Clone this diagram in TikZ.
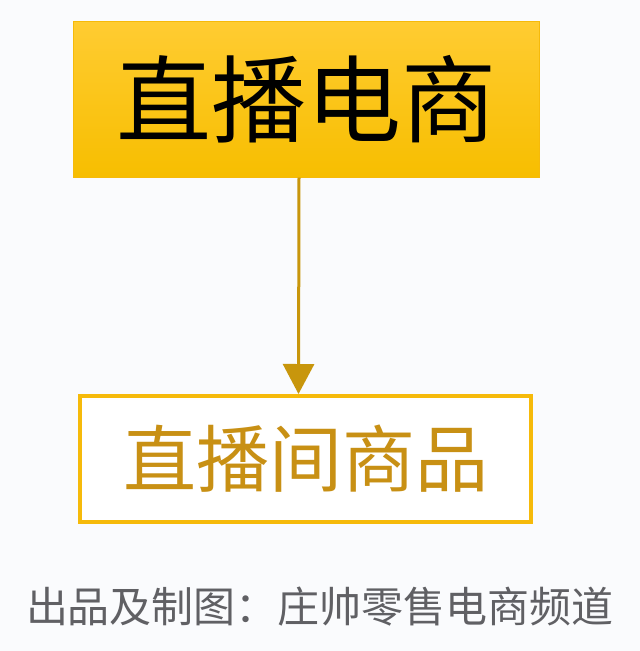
\documentclass[tikz,border=0pt]{standalone}
\usepackage{fontspec}
\usepackage{xcolor}
\newfontfamily\cjk{Noto Sans CJK SC}
\usetikzlibrary{arrows.meta,positioning}

\definecolor{paper}{RGB}{250,251,253}
\definecolor{goldtop}{RGB}{255,204,50}
\definecolor{goldbot}{RGB}{247,190,0}
\definecolor{goldline}{RGB}{200,150,12}
\definecolor{goldframe}{RGB}{246,186,10}
\definecolor{goldtext}{RGB}{200,144,20}
\definecolor{captiongray}{RGB}{96,96,100}

\begin{document}
\begin{tikzpicture}[x=1pt, y=-1pt,
  mainbox/.style={draw=goldframe, line width=1pt, top color=goldtop, bottom color=goldbot,
    minimum width=466pt, minimum height=156pt, inner sep=0pt,
    font=\cjk\fontsize{95}{95}\selectfont, text=black},
  subbox/.style={draw=goldframe, line width=4pt, fill=white,
    minimum width=451pt, minimum height=126pt, inner sep=0pt,
    font=\cjk\fontsize{73}{73}\selectfont, text=goldtext},
  flow/.style={-{Triangle[length=30pt, width=31pt]}, line width=3pt, draw=goldline, fill=goldline}]

\fill[paper] (0,0) rectangle (640,651);
\useasboundingbox (0,0) rectangle (640,651);

\node[mainbox] (live) at (306,99) {\raisebox{-3pt}{直播电商}};
\node[subbox] (goods) at (305.5,459) {直播间商品};

\draw[flow] ([xshift=-7pt]live.south) -- ([xshift=-7pt]goods.north);

\node[font=\cjk\fontsize{42}{42}\selectfont, text=captiongray] (credit) at (320,607) {出品及制图：庄帅零售电商频道};

\end{tikzpicture}
\end{document}
